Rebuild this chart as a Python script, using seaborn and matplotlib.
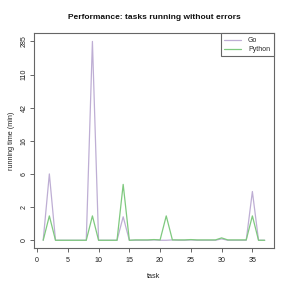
import numpy as np
import pandas as pd
import matplotlib
matplotlib.use("Agg")
import matplotlib.pyplot as plt
import seaborn as sns
from matplotlib.lines import Line2D

# ---- data ----
tasks = list(range(1, 38))
go_minutes = [0, 5.6, 0, 0, 0, 0, 0, 0, 285, 0,
              0, 0, 0, 0.95, 0, 0, 0, 0, 0.01, 0,
              0, 0.01, 0, 0, 0.01, 0, 0, 0, 0, 0.04,
              0, 0, 0, 0, 3.0, 0, 0]
python_minutes = [0, 1.0, 0, 0, 0, 0, 0, 0, 1.0, 0,
                  0, 0, 0, 3.9, 0, 0.01, 0.01, 0.01, 0.02, 0.01,
                  1.0, 0.01, 0.01, 0.01, 0.02, 0.01, 0.01, 0.01, 0.01, 0.07,
                  0.01, 0.01, 0.01, 0.01, 1.0, 0, 0]
series_names = ["Go", "Python"]
series_colors = ["#BEAED4", "#7FC97F"]
y_tick_labels = ["0", "2", "6", "16", "42", "110", "285"]
x_ticks = [0, 5, 10, 15, 20, 25, 30, 35]

df = pd.concat([
    pd.DataFrame({"task": tasks, "minutes": go_minutes, "lang": "Go"}),
    pd.DataFrame({"task": tasks, "minutes": python_minutes, "lang": "Python"}),
])

sns.set_theme(style="white")
plt.rcParams["font.family"] = ["Liberation Sans", "DejaVu Sans"]

fig = plt.figure(figsize=(2.91, 2.91), dpi=100)
ax = fig.add_axes([0.118, 0.147, 0.822, 0.738])
ax.set_yscale("function", functions=(np.log1p, np.expm1))

sns.lineplot(data=df, x="task", y="minutes", hue="lang",
             hue_order=series_names, palette=series_colors,
             linewidth=0.9, ax=ax, legend=False)

# limits with 4% padding like R
xmin, xmax = min(tasks), max(tasks)
pad = 0.04 * (xmax - xmin)
ax.set_xlim(xmin - pad, xmax + pad)
ymax_l = np.log1p(max(go_minutes))
ypad = 0.04 * ymax_l
ax.set_ylim(np.expm1(-ypad), np.expm1(ymax_l + ypad))

ypos = np.expm1(np.linspace(0, ymax_l, len(y_tick_labels)))
ax.set_yticks(ypos)
ax.set_yticklabels(y_tick_labels, rotation=90, va="center")
ax.set_xticks(x_ticks)
ax.set_xticklabels([str(t) for t in x_ticks])

for s in ax.spines.values():
    s.set_color("#666666")
    s.set_linewidth(0.8)
ax.tick_params(axis="both", which="both", direction="out", length=3.0,
               width=0.7, color="#666666", labelsize=5.1, labelcolor="#222222",
               bottom=True, left=True)
ax.tick_params(axis="y", pad=2.0)
ax.tick_params(axis="x", pad=3.5)
ax.grid(False)

ax.set_xlabel("task", fontsize=5.2, color="#222222", labelpad=6)
ax.set_ylabel("running time (min)", fontsize=5.2, color="#222222", labelpad=4)
fig.text(0.53, 0.94, "Performance: tasks running without errors",
         ha="center", va="center", fontsize=6.0, fontweight="bold", color="#111111")

handles = [Line2D([0], [0], color=c, lw=0.9) for c in series_colors]
leg = ax.legend(handles, series_names, loc="upper right", fontsize=5.0,
                frameon=True, fancybox=False, borderaxespad=0,
                handlelength=2.4, handletextpad=1.0, borderpad=0.5,
                labelspacing=0.3)
leg.get_frame().set_edgecolor("#666666")
leg.get_frame().set_linewidth(0.8)
leg.get_frame().set_alpha(1)

fig.savefig("out.png", dpi=100, facecolor="white")
